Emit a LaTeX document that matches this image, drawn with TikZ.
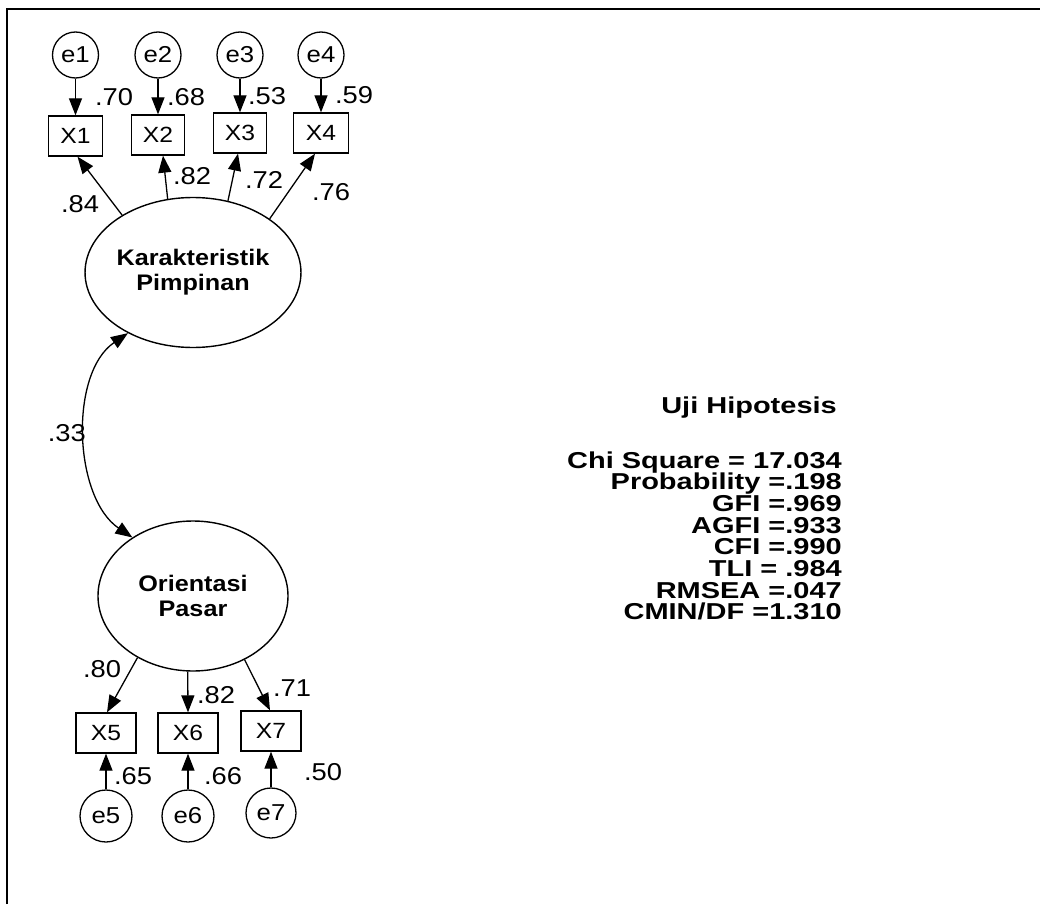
\documentclass[tikz,border=0pt]{standalone}
\usepackage{fontspec}
\setmainfont{Liberation Sans}[FakeStretch=1.12]
\newfontfamily\statfont{Liberation Sans}[FakeStretch=1.26]
\usetikzlibrary{shapes.geometric,arrows.meta,calc}
\begin{document}
\begin{tikzpicture}[x=1pt,y=-1pt,
  lat/.style={ellipse, draw, line width=1.4pt, minimum width=190pt, minimum height=150pt, inner sep=0pt, align=center, font=\fontsize{22.5}{25}\selectfont\bfseries},
  obs/.style={rectangle, draw, line width=1.3pt, minimum height=40pt, inner sep=0pt, font=\fontsize{22}{26}\selectfont},
  err/.style={circle, draw, line width=1.3pt, inner sep=0pt, font=\fontsize{23}{26}\selectfont},
  lbl/.style={inner sep=0pt, font=\fontsize{24.4}{28}\selectfont},
  arr/.style={-{Triangle[length=17pt,width=13pt]}, line width=1.3pt},
  dbl/.style={{Triangle[length=17pt,width=13pt]}-{Triangle[length=17pt,width=13pt]}, line width=1.3pt},
  stat/.style={inner sep=0pt, anchor=base east, text height=16pt, text depth=4pt, font=\statfont\fontsize{23}{21.7}\selectfont\bfseries}
]
\path[use as bounding box] (0,0) rectangle (1040,904);
\draw[line width=2.5pt] (7,904) -- (7,9) -- (1040,9);

% latent variables
\node[lat] (K) at (193,272.5) {Karakteristik\\Pimpinan};
\node[lat] (O) at (193,596) {Orientasi\\Pasar};

% indicators
\node[obs, minimum width=54pt] (X1) at (75.5,136) {X1};
\node[obs, minimum width=53pt] (X2) at (158,135) {X2};
\node[obs, minimum width=53pt] (X3) at (240,133) {X3};
\node[obs, minimum width=55pt] (X4) at (321,133) {X4};
\node[obs, minimum width=60pt] (X5) at (106,733) {X5};
\node[obs, minimum width=60pt] (X6) at (188,733) {X6};
\node[obs, minimum width=60pt] (X7) at (271,731) {X7};

% errors
\node[err, minimum size=46pt] (e1) at (75.5,55) {e1};
\node[err, minimum size=46pt] (e2) at (158,55) {e2};
\node[err, minimum size=46pt] (e3) at (240,55) {e3};
\node[err, minimum size=46pt] (e4) at (321,55) {e4};
\node[err, minimum size=52pt] (e5) at (106,816) {e5};
\node[err, minimum size=52pt] (e6) at (188,816) {e6};
\node[err, minimum size=50pt] (e7) at (271,813) {e7};

% error arrows
\draw[arr] (e1) -- (X1);
\draw[arr] (e2) -- (X2);
\draw[arr] (e3) -- (X3);
\draw[arr] (e4) -- (X4);
\draw[arr] (e5) -- (X5);
\draw[arr] (e6) -- (X6);
\draw[arr] (e7) -- (X7);

% loadings
\draw[arr] (K.141.5) -- ($(X1.south)+(2,0)$);
\draw[arr] (K.109) -- ($(X2.south)+(5,0)$);
\draw[arr] (K.64.7) -- ($(X3.south)+(-2,0)$);
\draw[arr] (K.35.8) -- ($(X4.south)+(-6,0)$);
\draw[arr] (O.228.8) -- ($(X5.north)+(1,0)$);
\draw[arr] (O.266.2) -- (X6.north);
\draw[arr] (O.309.1) -- ($(X7.north)+(-1,0)$);

% covariance
\draw[dbl] (K.223.6) .. controls +(-59,40) and +(-59,-40) .. (O.136.4);

% labels
\node[lbl] (l70) at (114,97) {.70};
\node[lbl] (l68) at (186,97) {.68};
\node[lbl] (l53) at (267,96) {.53};
\node[lbl] (l59) at (354,95) {.59};
\node[lbl] (l84) at (80,204) {.84};
\node[lbl] (l82a) at (192,176) {.82};
\node[lbl] (l72) at (264,180) {.72};
\node[lbl] (l76) at (331,192) {.76};
\node[lbl, anchor=east] (l33) at (86,433) {.33};
\node[lbl] (l80) at (102,669) {.80};
\node[lbl] (l82b) at (216,695) {.82};
\node[lbl] (l71) at (292,688) {.71};
\node[lbl] (l65) at (133,776) {.65};
\node[lbl] (l66) at (223,776) {.66};
\node[lbl] (l50) at (323,772) {.50};

% fit statistics
\node[stat] (title) at (837,413) {Uji Hipotesis};
\node[stat] (s1) at (842,468) {Chi Square = 17.034};
\node[stat] (s2) at (842,489.7) {Probability =.198};
\node[stat] (s3) at (842,511.4) {GFI =.969};
\node[stat] (s4) at (842,533.1) {AGFI =.933};
\node[stat] (s5) at (842,554.8) {CFI =.990};
\node[stat] (s6) at (842,576.5) {TLI = .984};
\node[stat] (s7) at (842,598.2) {RMSEA =.047};
\node[stat] (s8) at (842,619.9) {CMIN/DF =1.310};
\end{tikzpicture}
\end{document}
